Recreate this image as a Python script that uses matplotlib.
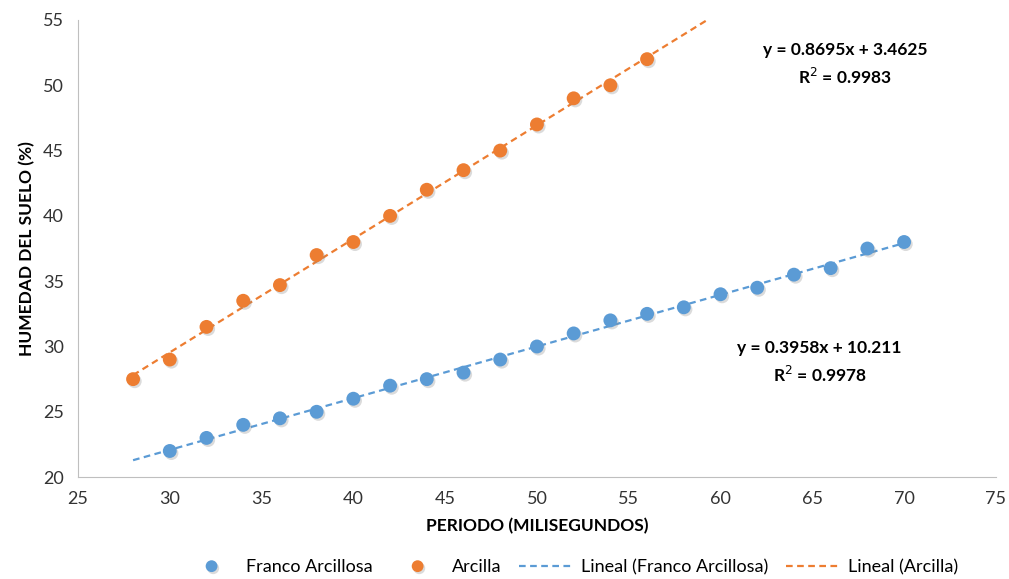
import numpy as np
import matplotlib
matplotlib.use("Agg")
import matplotlib.pyplot as plt
import matplotlib.patheffects as pe

plt.rcParams['font.family'] = ['Lato', 'DejaVu Sans']

# Franco Arcillosa
x_franco = [30, 32, 34, 36, 38, 40, 42, 44, 46, 48, 50, 52, 54, 56, 58, 60, 62, 64, 66, 68, 70]
y_franco = [22, 23, 24, 24.5, 25, 26, 27, 27.5, 28, 29, 30, 31, 32, 32.5, 33, 34, 34.5, 35.5, 36, 37.5, 38]

# Arcilla
x_arcilla = [28, 30, 32, 34, 36, 38, 40, 42, 44, 46, 48, 50, 52, 54, 56]
y_arcilla = [27.5, 29, 31.5, 33.5, 34.7, 37, 38, 40, 42, 43.5, 45, 47, 49, 50, 52]

eq_franco = ["y = 0.3958x + 10.211", "R$^2$ = 0.9978"]
eq_arcilla = ["y = 0.8695x + 3.4625", "R$^2$ = 0.9983"]

blue = '#5B9BD5'
orange = '#ED7D31'

def main():
    fig = plt.figure(figsize=(10.09, 5.79), dpi=100)
    ax = fig.add_axes([0.0773, 0.176, 0.9097, 0.7895])

    shadow = [pe.SimplePatchShadow(offset=(1.2, -1.5), shadow_rgbFace='#888888', alpha=0.3), pe.Normal()]

    # trendlines
    p1 = np.polyfit(x_franco, y_franco, 1)
    xs1 = np.linspace(28, 70, 50)
    ax.plot(xs1, np.polyval(p1, xs1), color=blue, linestyle=(0, (3, 2)), linewidth=1.6,
            label='Lineal (Franco Arcillosa)', zorder=2)
    p2 = np.polyfit(x_arcilla, y_arcilla, 1)
    xs2 = np.linspace(28, 60, 50)
    ax.plot(xs2, np.polyval(p2, xs2), color=orange, linestyle=(0, (3, 2)), linewidth=1.6,
            label='Lineal (Arcilla)', zorder=2)

    ax.plot(x_franco, y_franco, linestyle='none', marker='o', markersize=10, color=blue,
            markeredgewidth=0, label='Franco Arcillosa', zorder=3, path_effects=shadow)
    ax.plot(x_arcilla, y_arcilla, linestyle='none', marker='o', markersize=10, color=orange,
            markeredgewidth=0, label='Arcilla', zorder=3, path_effects=shadow)

    ax.set_xlim(25, 75)
    ax.set_ylim(20, 55)
    ax.set_xticks(range(25, 76, 5))
    ax.set_yticks(range(20, 56, 5))
    ax.tick_params(length=0, labelsize=13, colors='#333333', pad=10)
    for s in ['top', 'right']:
        ax.spines[s].set_visible(False)
    for s in ['left', 'bottom']:
        ax.spines[s].set_color('#BFBFBF')

    ax.set_xlabel('PERIODO (MILISEGUNDOS)', fontsize=12.5, fontweight='bold', labelpad=8)
    ax.set_ylabel('HUMEDAD DEL SUELO (%)', fontsize=12.5, fontweight='bold', labelpad=6)

    ax.text(66.8, 52.7, eq_arcilla[0], ha='center', va='center', fontsize=12.5, fontweight='bold')
    ax.text(66.8, 50.6, eq_arcilla[1], ha='center', va='center', fontsize=12.5, fontweight='bold')
    ax.text(65.4, 29.9, eq_franco[0], ha='center', va='center', fontsize=12.5, fontweight='bold')
    ax.text(65.4, 27.8, eq_franco[1], ha='center', va='center', fontsize=12.5, fontweight='bold')

    h, l = ax.get_legend_handles_labels()
    order = [2, 3, 0, 1]
    fig.legend([h[i] for i in order], [l[i] for i in order], loc='lower center',
               bbox_to_anchor=(0.566, -0.022), ncol=4, frameon=False, fontsize=13,
               handlelength=3.0, columnspacing=1.0, handletextpad=0.4, markerscale=0.85)

    fig.savefig('out.png', dpi=100)


if __name__ == "__main__":
    main()
